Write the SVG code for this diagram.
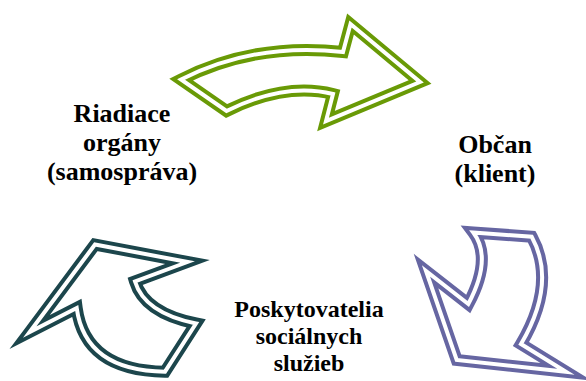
<svg xmlns="http://www.w3.org/2000/svg" width="586" height="381" viewBox="0 0 586 381">
<style>
.o{fill:#fff;stroke-width:12;stroke-linejoin:miter;stroke-miterlimit:20}
.i{fill:none;stroke:#fff;stroke-width:4;stroke-linejoin:miter;stroke-miterlimit:20}
text{font-family:'Liberation Serif','Times New Roman','DejaVu Serif',serif;font-weight:700;font-size:24px;text-anchor:middle;fill:#000}
.big{font-size:26px}
</style>
<rect width="586" height="381" fill="#fff"/>
<g id="connectors">
<g id="arrow-green">
<path class="o" stroke="#699A06" d="M181,79.5 Q255,42 343,52 L350.5,24 L420,82 L326,121 L333,94 Q285,82 226.5,111 Z"/>
<path class="i" d="M181,79.5 Q255,42 343,52 L350.5,24 L420,82 L326,121 L333,94 Q285,82 226.5,111 Z"/>
</g>
<g id="arrow-purple">
<path class="o" stroke="#6666A2" d="M473.3,232.5 L531.7,236.7 Q557,283 521,344 L566,371.7 L456.7,360 L426,271 L468.3,304 Q492.6,258.3 473.3,232.5 Z"/>
<path class="i" d="M473.3,232.5 L531.7,236.7 Q557,283 521,344 L566,371.7 L456.7,360 L426,271 L468.3,304 Q492.6,258.3 473.3,232.5 Z"/>
</g>
<g id="arrow-teal">
<path class="o" stroke="#1C464C" d="M29.7,332 L95,244.5 L187.5,262 L135,281.5 Q144.5,313 196,323.5 L165,371.7 Q85.15,370.65 76.7,308 Z"/>
<path class="i" d="M29.7,332 L95,244.5 L187.5,262 L135,281.5 Q144.5,313 196,323.5 L165,371.7 Q85.15,370.65 76.7,308 Z"/>
</g>
</g>
<g id="node-riadiace">
<text class="big" x="122" y="122">Riadiace</text>
<text class="big" x="122" y="151">orgány</text>
<text class="big" x="122" y="180">(samospráva)</text>
</g>
<g id="node-obcan">
<text class="big" x="495" y="153">Občan</text>
<text class="big" x="495" y="182">(klient)</text>
</g>
<g id="node-poskytovatelia">
<text x="309" y="317">Poskytovatelia</text>
<text x="309" y="344">sociálnych</text>
<text x="309" y="371">služieb</text>
</g>
</svg>
